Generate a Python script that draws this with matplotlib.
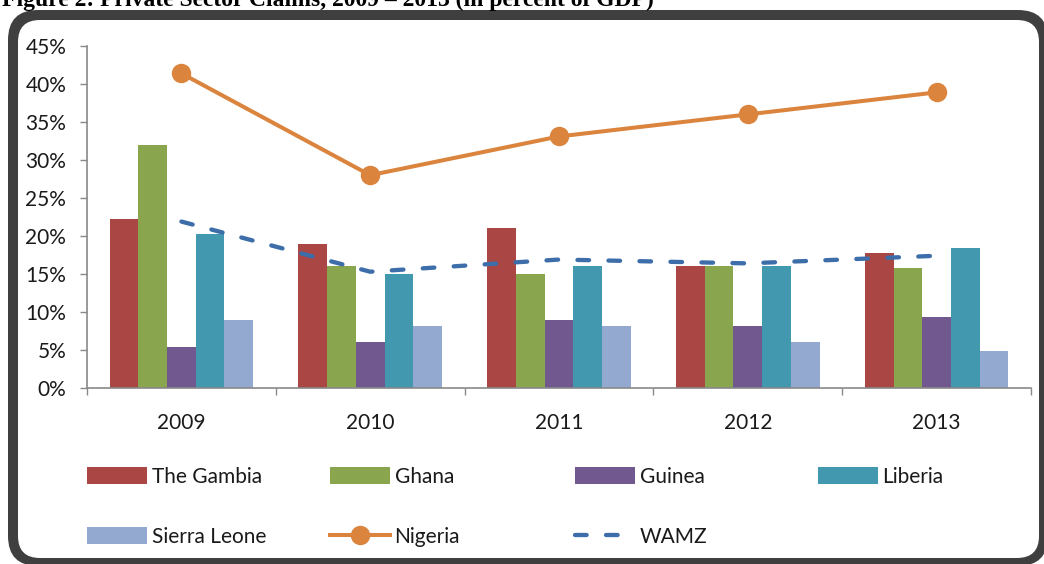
import matplotlib
matplotlib.use("Agg")
import matplotlib.pyplot as plt
from matplotlib.patches import FancyBboxPatch
from matplotlib.transforms import IdentityTransform
from matplotlib.ticker import PercentFormatter, FixedLocator
import numpy as np

years = ["2009", "2010", "2011", "2012", "2013"]
gambia = [22.2, 19.0, 21.1, 16.0, 17.7]
ghana = [32.0, 16.0, 15.0, 16.0, 15.8]
guinea = [5.4, 6.1, 9.0, 8.1, 9.3]
liberia = [20.3, 15.0, 16.0, 16.0, 18.4]
sierra_leone = [9.0, 8.1, 8.1, 6.1, 4.9]
nigeria = [41.4, 28.0, 33.1, 36.0, 38.9]
wamz = [21.9, 15.3, 16.9, 16.4, 17.4]

bar_series = [
    ("The Gambia", gambia, "#AA4643"),
    ("Ghana", ghana, "#89A54E"),
    ("Guinea", guinea, "#71588F"),
    ("Liberia", liberia, "#4198AF"),
    ("Sierra Leone", sierra_leone, "#93A9CF"),
]

W, H = 1044, 564
plt.rcParams["font.family"] = ["Lato", "DejaVu Sans"]

fig = plt.figure(figsize=(W / 100, H / 100), dpi=100)

# rounded frame in pixel coords: dark outer shape, white inner shape
outer = FancyBboxPatch((8, -2), 1040, 556,
                       boxstyle="round,pad=0,rounding_size=30",
                       transform=IdentityTransform(), facecolor="#3F3F3F",
                       edgecolor="none", zorder=-3)
inner = FancyBboxPatch((18, 6), 1021, 538,
                       boxstyle="round,pad=0,rounding_size=22",
                       transform=IdentityTransform(), facecolor="white",
                       edgecolor="none", zorder=-2)
fig.patches.extend([outer, inner])

# title, cut off at the top like the original
fig.text(2 / W, 1 - 6 / H,
         "Figure 2: Private Sector Claims, 2009 \u2013 2013 (in percent of GDP)",
         fontsize=17, fontweight="bold", family=["Liberation Serif", "DejaVu Serif"],
         va="baseline", ha="left")

ax = fig.add_axes([87 / W, 1 - 388 / H, (1031 - 87) / W, (388 - 46) / H])
ax.patch.set_alpha(0)

x = np.arange(len(years))
bw = 0.152
handles = {}
for i, (name, vals, col) in enumerate(bar_series):
    b = ax.bar(x + (i - 2) * bw, vals, width=bw, color=col, edgecolor="none")
    handles[name] = b

ln_n, = ax.plot(x, nigeria, color="#DB843D", lw=2.9, marker="o", ms=13,
                label="Nigeria")
ln_w, = ax.plot(x, wamz, color="#3D6EAA", lw=3.1, dashes=(2.7, 4.5),
                dash_capstyle="round", label="WAMZ")
handles["Nigeria"] = ln_n
handles["WAMZ"] = ln_w

ax.set_xlim(-0.5, len(years) - 0.5)
ax.set_ylim(0, 45)
ax.set_yticks(np.arange(0, 46, 5))
ax.yaxis.set_major_formatter(PercentFormatter(decimals=0))
ax.set_xticks(x)
ax.set_xticklabels(years)
ax.xaxis.set_minor_locator(FixedLocator(np.arange(-0.5, len(years), 1.0)))

for s in ["top", "right"]:
    ax.spines[s].set_visible(False)
for s in ["left", "bottom"]:
    ax.spines[s].set_color("#898989")
    ax.spines[s].set_linewidth(1.2)

ax.tick_params(axis="y", length=5, width=1, color="#898989", pad=10,
               labelsize=15, labelcolor="#1a1a1a")
ax.tick_params(axis="x", which="major", length=0, pad=18, labelsize=15,
               labelcolor="#1a1a1a")
ax.tick_params(axis="x", which="minor", length=5, width=1, color="#898989")

# legend: one entry per slot, laid out in two rows like the original
slots = [
    ("The Gambia", 87, 477), ("Ghana", 330, 477), ("Guinea", 575, 477),
    ("Liberia", 818, 477), ("Sierra Leone", 87, 537), ("Nigeria", 330, 537),
    ("WAMZ", 575, 537),
]
for name, px, py in slots:
    leg = fig.legend([handles[name]], [name], loc="center left",
                     bbox_to_anchor=(px / W, 1 - py / H), frameon=False,
                     borderpad=0, borderaxespad=0, handlelength=2.9,
                     handleheight=0.85, handletextpad=0.2, numpoints=1,
                     fontsize=15)
    for t in leg.get_texts():
        t.set_color("#1a1a1a")

fig.savefig("out.png", dpi=100)
